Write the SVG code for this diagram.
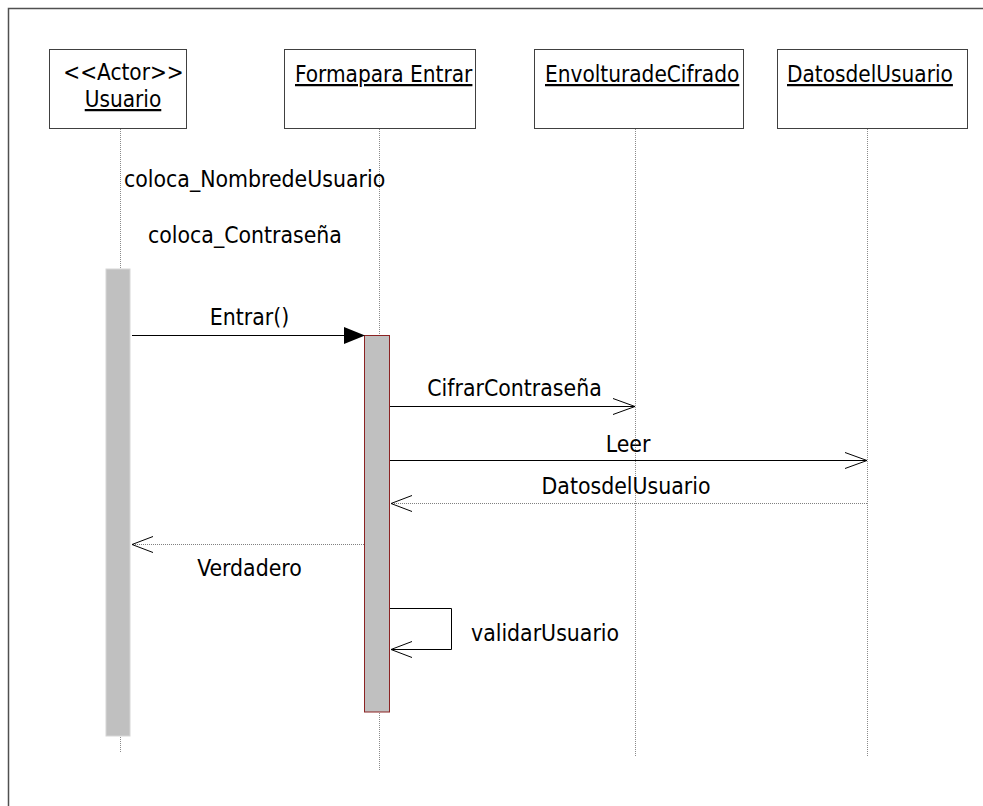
<svg xmlns="http://www.w3.org/2000/svg" width="983" height="806" viewBox="0 0 983 806">
  <style>
    text { font-family: "DejaVu Sans Condensed", "DejaVu Sans", sans-serif; font-size: 22.8px; fill: #000; }
    .hdr { font-size: 22.4px; }
    .u { text-decoration: underline; }
    .box { fill: #fff; stroke: #404040; stroke-width: 1; }
    .life { stroke: #8a8a8a; stroke-width: 1; stroke-dasharray: 1 1; fill: none; }
    .call { stroke: #000; stroke-width: 1; fill: none; }
    .ret { stroke: #808080; stroke-width: 1; stroke-dasharray: 1 1; fill: none; }
    .head { stroke: #000; stroke-width: 1; fill: none; }
  </style>

  <!-- frame -->
  <path d="M8.5,806 V8.5 H983" fill="none" stroke="#505050" stroke-width="1.5"/>

  <!-- lifelines -->
  <g id="lifelines">
    <line class="life" x1="120.5" y1="129" x2="120.5" y2="753"/>
    <line class="life" x1="379.5" y1="129" x2="379.5" y2="770"/>
    <line class="life" x1="635.5" y1="129" x2="635.5" y2="757"/>
    <line class="life" x1="867.5" y1="129" x2="867.5" y2="757"/>
  </g>

  <!-- participants -->
  <g id="usuario">
    <rect class="box" x="49.5" y="49.5" width="137" height="79"/>
    <text class="hdr" x="123.5" y="80" text-anchor="middle">&lt;&lt;Actor&gt;&gt;</text>
    <text class="hdr u" x="123" y="107" text-anchor="middle">Usuario</text>
  </g>
  <g id="formaparaEntrar">
    <rect class="box" x="284.5" y="49.5" width="191" height="79"/>
    <text class="hdr u" x="295" y="82">Formapara Entrar</text>
  </g>
  <g id="envolturaDeCifrado">
    <rect class="box" x="534.5" y="49.5" width="209" height="79"/>
    <text class="hdr u" x="545" y="82">EnvolturadeCifrado</text>
  </g>
  <g id="datosDelUsuario">
    <rect class="box" x="777.5" y="49.5" width="190" height="79"/>
    <text class="hdr u" x="787" y="82">DatosdelUsuario</text>
  </g>

  <!-- activation bars -->
  <g id="activaciones">
    <rect x="106" y="269" width="24" height="467" fill="#c0c0c0" stroke="#d6d6d6" stroke-width="1"/>
    <rect x="364.5" y="335.5" width="25" height="376.5" fill="#c0c0c0" stroke="#8b2323" stroke-width="1"/>
  </g>

  <!-- messages -->
  <g id="connectors">
    <!-- Entrar() -->
    <line class="call" x1="132" y1="335.5" x2="346" y2="335.5"/>
    <polygon points="344,327 365,335.5 344,344" fill="#000"/>
    <!-- CifrarContraseña -->
    <line class="call" x1="390" y1="406.5" x2="635" y2="406.5"/>
    <polyline class="head" points="613,398.5 635,406.5 613,414.5"/>
    <!-- Leer -->
    <line class="call" x1="390" y1="460.5" x2="867" y2="460.5"/>
    <polyline class="head" points="845,452.5 867,460.5 845,468.5"/>
    <!-- DatosdelUsuario (return) -->
    <line class="ret" x1="867" y1="503.5" x2="391" y2="503.5"/>
    <polyline class="head" points="412,495.5 391,503.5 412,511.5"/>
    <!-- Verdadero (return) -->
    <line class="ret" x1="364" y1="544.5" x2="132" y2="544.5"/>
    <polyline class="head" points="153,536.5 132,544.5 153,552.5"/>
    <!-- validarUsuario (self) -->
    <polyline class="call" points="390,608.5 451.5,608.5 451.5,649.5 391,649.5"/>
    <polyline class="head" points="412,641.5 391,649.5 412,657.5"/>
  </g>

  <!-- labels -->
  <g id="etiquetas">
    <text x="124" y="187">coloca_NombredeUsuario</text>
    <text x="148" y="243">coloca_Contraseña</text>
    <text x="249.5" y="325" text-anchor="middle">Entrar()</text>
    <text x="514.5" y="396" text-anchor="middle">CifrarContraseña</text>
    <text x="628" y="452" text-anchor="middle">Leer</text>
    <text x="626" y="494" text-anchor="middle">DatosdelUsuario</text>
    <text x="249.5" y="576" text-anchor="middle">Verdadero</text>
    <text x="471" y="641">validarUsuario</text>
  </g>
</svg>
